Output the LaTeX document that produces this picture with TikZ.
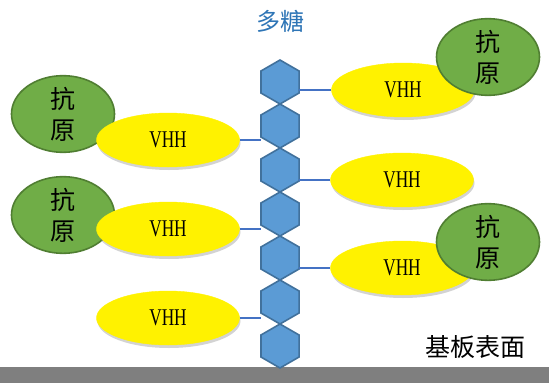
\documentclass[tikz,border=0pt]{standalone}
\usepackage{fontspec}
\setmainfont{Liberation Serif}
\newfontfamily\cjk{Noto Sans CJK SC}
\newfontfamily\vhhfont[FakeStretch=0.72]{Liberation Serif}
\usetikzlibrary{shapes.geometric,shadows}
\definecolor{hexfill}{HTML}{5B9BD5}
\definecolor{hexdraw}{HTML}{41719C}
\definecolor{linkblue}{HTML}{4472C4}
\definecolor{antfill}{HTML}{70AD47}
\definecolor{antdraw}{HTML}{507E32}
\definecolor{titleblue}{HTML}{2E75B6}
\definecolor{bargray}{HTML}{7F7F7F}
\tikzset{
  hexbox/.style={regular polygon, regular polygon sides=6, shape border rotate=30,
    minimum size=44pt, inner sep=0pt, outer sep=0pt, fill=hexfill, draw=hexdraw, line width=1.6pt},
  vhh/.style={ellipse, minimum width=143pt, minimum height=54pt, inner sep=0pt, fill=yellow, draw=yellow,
    drop shadow={opacity=0.35, shadow xshift=1pt, shadow yshift=-3pt},
    font=\vhhfont\fontsize{24}{26}\selectfont},
  antigen/.style={ellipse, minimum width=103pt, minimum height=76pt, inner sep=0pt, fill=antfill, draw=antdraw,
    line width=1.6pt, align=center, font=\cjk\fontsize{25}{31}\selectfont},
  link/.style={draw=linkblue, line width=1.6pt}
}
\begin{document}
\begin{tikzpicture}[x=1pt,y=-1pt]
\useasboundingbox (0,0) rectangle (549,383);
% substrate bar
\fill[bargray] (0,367) rectangle (549,383);
% hexagon chain
\foreach \k in {0,...,6} {
  \node[hexbox] (hx\k) at (280,{82+44*\k}) {};
}
% left antigens (beneath their VHH)
\node[antigen] (a2) at (63,114) {抗\\原};
\node[antigen] (a3) at (63,215) {抗\\原};
% VHH nodes
\node[vhh] (v1) at (403,90) {VHH};
\node[vhh] (v2) at (168,140) {VHH};
\node[vhh] (v3) at (402,180) {VHH};
\node[vhh] (v4) at (168,229) {VHH};
\node[vhh] (v5) at (402,268) {VHH};
\node[vhh] (v6) at (168,318) {VHH};
% links
\path[link] (v1.west) -- (v1.west -| hx0.east);
\path[link] (v2.east) -- (v2.east -| hx1.west);
\path[link] (v3.west) -- (v3.west -| hx2.east);
\path[link] (v4.east) -- (v4.east -| hx3.west);
\path[link] (v5.west) -- (v5.west -| hx4.east);
\path[link] (v6.east) -- (v6.east -| hx5.west);
% right antigens (above their VHH)
\node[antigen] (a1) at (488,57) {抗\\原};
\node[antigen] (a4) at (488,242) {抗\\原};
% texts
\node[font=\cjk\fontsize{24}{26}\selectfont, text=titleblue] (title) at (280,21) {多糖};
\node[font=\cjk\fontsize{25}{28}\selectfont] (surf) at (475,347) {基板表面};
\end{tikzpicture}
\end{document}
